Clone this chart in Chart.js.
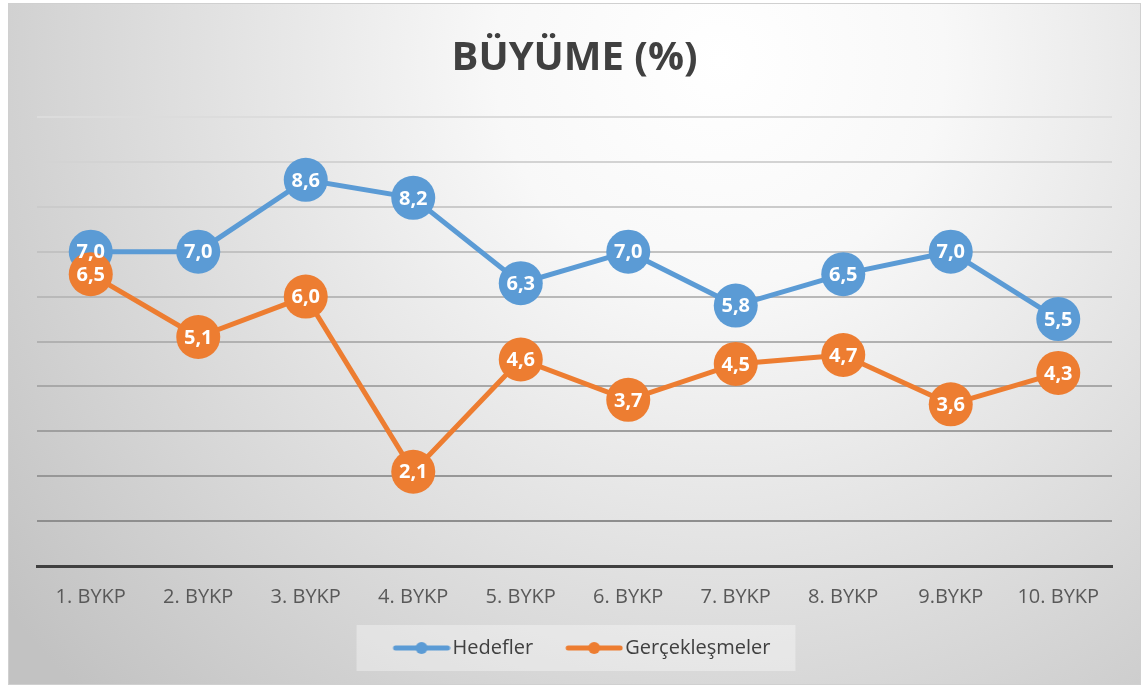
<!DOCTYPE html>
<html><head><meta charset="utf-8">
<script src="https://cdn.jsdelivr.net/npm/chart.js@4/dist/chart.umd.min.js"></script>
<style>html,body{margin:0;padding:0;background:#fff;}#wrap{width:1147px;height:686px;}</style>
</head><body><div id="wrap"><canvas id="c" width="1147" height="686"></canvas></div>
<script>
const categories = ["1. BYKP","2. BYKP","3. BYKP","4. BYKP","5. BYKP","6. BYKP","7. BYKP","8. BYKP","9.BYKP","10. BYKP"];
const hedefler = [7.0, 7.0, 8.6, 8.2, 6.3, 7.0, 5.8, 6.5, 7.0, 5.5];
const gerceklesmeler = [6.5, 5.1, 6.0, 2.1, 4.6, 3.7, 4.5, 4.7, 3.6, 4.3];
const seriesNames = ["Hedefler", "Gerçekleşmeler"];
const titleText = "BÜYÜME (%)";

const BLUE = "#5B9BD5", ORANGE = "#ED7D31";
const FONT = "'Open Sans', 'Liberation Sans', sans-serif";

function legendIcon(color){
  const cv = document.createElement('canvas');
  cv.width = 80; cv.height = 14;
  const g = cv.getContext('2d');
  g.strokeStyle = color; g.lineWidth = 5; g.lineCap = 'round';
  g.beginPath(); g.moveTo(25,7); g.lineTo(77,7); g.stroke();
  g.fillStyle = color; g.beginPath(); g.arc(51,7,6,0,Math.PI*2); g.fill();
  return cv;
}

const bgPlugin = {
  id: 'bg',
  beforeDraw(chart){
    const ctx = chart.ctx;
    ctx.save();
    ctx.fillStyle = '#ffffff';
    ctx.fillRect(0,0,chart.width,chart.height);
    const x0=8,y0=3,x1=1141,y1=685;
    const grd = ctx.createRadialGradient(720,60,0,720,60,900);
    grd.addColorStop(0,'#ffffff');
    grd.addColorStop(0.25,'#f8f8f8');
    grd.addColorStop(1,'#c2c2c2');
    ctx.fillStyle = grd;
    ctx.fillRect(x0,y0,x1-x0,y1-y0);
    ctx.strokeStyle = '#d0d0d0'; ctx.lineWidth = 1;
    ctx.strokeRect(x0+0.5,y0+0.5,x1-x0-1,y1-y0-1);
    const lg = chart.legend;
    if (lg && lg.legendHitBoxes && lg.legendHitBoxes.length){
      const hb = lg.legendHitBoxes;
      const l = Math.min(...hb.map(b=>b.left)), r = Math.max(...hb.map(b=>b.left+b.width));
      const t = Math.min(...hb.map(b=>b.top)), bt = Math.max(...hb.map(b=>b.top+b.height));
      const cy = (t+bt)/2;
      ctx.fillStyle = 'rgba(255,255,255,0.35)';
      ctx.fillRect(l-22, cy-23, (r-l)+22+25, 46);
    }
    ctx.restore();
  }
};

const labelPlugin = {
  id: 'ptlabels',
  afterDatasetsDraw(chart){
    const ctx = chart.ctx;
    ctx.save();
    ctx.fillStyle = '#ffffff';
    ctx.font = "bold 20px " + FONT;
    ctx.textAlign = 'center';
    ctx.textBaseline = 'middle';
    chart.data.datasets.forEach((ds,i)=>{
      const meta = chart.getDatasetMeta(i);
      meta.data.forEach((pt,j)=>{
        ctx.fillText(ds.data[j].toFixed(1).replace('.',','), pt.x, pt.y+1);
      });
    });
    ctx.restore();
  }
};

function lerpGray(v){
  const t = Math.max(0,Math.min(1,(v-1)/9));
  const c = Math.round(0x8e + t*(0xdc-0x8e));
  return `rgb(${c},${c},${c})`;
}

new Chart(document.getElementById('c'), {
  type: 'line',
  data: {
    labels: categories,
    datasets: [
      { label: seriesNames[0], data: hedefler, borderColor: BLUE, backgroundColor: BLUE,
        borderWidth: 5, pointRadius: 22, pointHoverRadius: 22, pointBorderWidth: 0,
        pointBackgroundColor: BLUE, pointStyle: 'circle', order: 1, tension: 0 },
      { label: seriesNames[1], data: gerceklesmeler, borderColor: ORANGE, backgroundColor: ORANGE,
        borderWidth: 5, pointRadius: 22, pointHoverRadius: 22, pointBorderWidth: 0,
        pointBackgroundColor: ORANGE, pointStyle: 'circle', order: 0, tension: 0 }
    ]
  },
  options: {
    responsive: false,
    animation: false,
    devicePixelRatio: 1,
    layout: { padding: { left: 37, right: 35, top: 0, bottom: 18 } },
    plugins: {
      title: { display: true, text: titleText, color: '#404040',
        font: { family: FONT, size: 40, weight: 'bold' }, padding: { top: 35, bottom: 34 } },
      legend: { position: 'bottom',
        labels: { usePointStyle: true, pointStyleWidth: 64, color: '#404040', font: { family: FONT, size: 20 },
          padding: 18, boxHeight: 14,
          generateLabels(chart){
            return chart.data.datasets.map((ds,i)=>({
              text: ds.label, pointStyle: legendIcon(ds.borderColor), fillStyle: ds.borderColor,
              strokeStyle: ds.borderColor, lineWidth: 0, datasetIndex: i, hidden: false,
              fontColor: '#404040'
            }));
          }
        } },
      tooltip: { enabled: false }
    },
    scales: {
      x: { offset: true, grid: { display: false },
        border: { display: true, color: '#404040', width: 3 },
        ticks: { color: '#595959', font: { family: FONT, size: 20 }, padding: 11, maxRotation: 0 } },
      y: { min: 0, max: 10, ticks: { display: false, stepSize: 1 },
        border: { display: false },
        grid: { drawTicks: false, lineWidth: 2,
          color: (c)=> c.tick && c.tick.value===0 ? 'rgba(0,0,0,0)' : lerpGray(c.tick ? c.tick.value : 5) } }
    }
  },
  plugins: [bgPlugin, labelPlugin]
});
</script>
</body></html>
